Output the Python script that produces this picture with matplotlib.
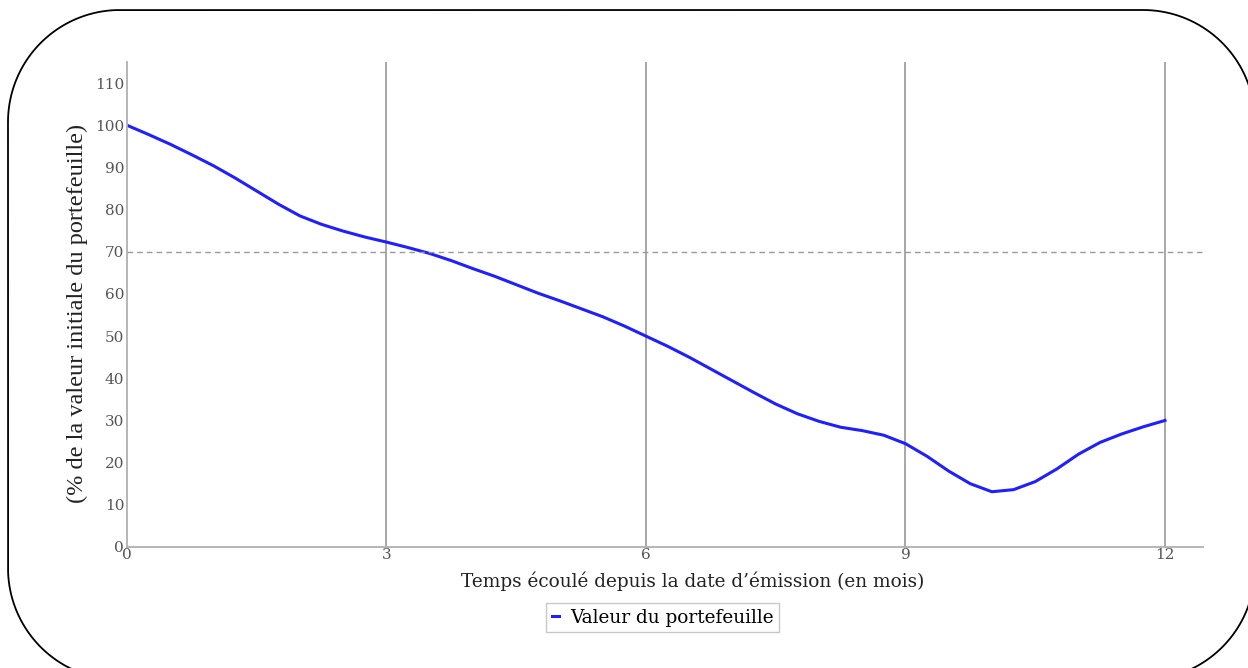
import matplotlib
matplotlib.use("Agg")
import numpy as np
import matplotlib.pyplot as plt
from matplotlib.patches import PathPatch
from matplotlib.path import Path
from matplotlib.transforms import IdentityTransform

# valeurs (mois, % de la valeur initiale)
mois = [0, 0.25, 0.5, 0.75, 1, 1.25, 1.5, 1.75, 2, 2.25, 2.5, 2.75, 3, 3.25,
        3.5, 3.75, 4, 4.25, 4.5, 4.75, 5, 5.25, 5.5, 5.75, 6, 6.25, 6.5, 6.75,
        7, 7.25, 7.5, 7.75, 8, 8.25, 8.5, 8.75, 9, 9.25, 9.5, 9.75, 10, 10.25,
        10.5, 10.75, 11, 11.25, 11.5, 11.75, 12]
valeur = [100, 97.8, 95.5, 93, 90.4, 87.5, 84.4, 81.3, 78.5, 76.5, 74.9, 73.5,
          72.3, 71, 69.6, 67.9, 66, 64.2, 62.2, 60.2, 58.4, 56.5, 54.6, 52.4,
          50, 47.6, 45, 42.2, 39.4, 36.6, 33.9, 31.6, 29.8, 28.4, 27.6, 26.5,
          24.5, 21.5, 18, 15, 13.1, 13.6, 15.5, 18.5, 22, 24.8, 26.8, 28.5, 30]

xticks = [0, 3, 6, 9, 12]
yticks = list(range(0, 111, 10))
seuil = 70

fig = plt.figure(figsize=(12.48, 6.68), dpi=100)
ax = fig.add_axes([127 / 1248, 1 - 547 / 668, (1203 - 127) / 1248, (547 - 62) / 668])

ax.plot(mois, valeur, color='#1f1fff', lw=2.2, label='Valeur du portefeuille',
        solid_joinstyle='round')
ax.axhline(seuil, color='#999999', lw=1, ls=(0, (4, 3)))
for x in xticks[1:]:
    ax.axvline(x, color='#a0a0a0', lw=1.3, zorder=0)

ax.set_xlim(0, 12.44)
ax.set_ylim(0, 115)
ax.set_xticks(xticks)
ax.set_yticks(yticks)
ax.tick_params(length=0, labelsize=11, labelcolor='#555555', pad=2)
for lab in ax.get_xticklabels() + ax.get_yticklabels():
    lab.set_family('DejaVu Serif')
ax.tick_params(axis='x', pad=1)

for s in ['top', 'right']:
    ax.spines[s].set_visible(False)
for s in ['left', 'bottom']:
    ax.spines[s].set_color('#b0b0b0')
    ax.spines[s].set_linewidth(1.3)

ax.set_xlabel("Temps écoulé depuis la date d’émission (en mois)",
              family='DejaVu Serif', fontsize=13.3, color='#222222')
ax.xaxis.set_label_coords(0.526, -0.051)
ax.set_ylabel("(% de la valeur initiale du portefeuille)",
              family='Liberation Serif', fontsize=17.5, color='#222222')
ax.yaxis.set_label_coords(-0.036, 0.482)

leg = ax.legend(loc='upper center', bbox_to_anchor=(0.498, -0.097), frameon=True,
                fancybox=False, handlelength=0.4, handletextpad=0.6,
                prop={'family': 'DejaVu Serif', 'size': 13.3}, borderpad=0.3)
leg.get_frame().set_edgecolor('#bbbbbb')
leg.get_frame().set_linewidth(1)

# cadre arrondi autour de la figure (coordonnees pixels, origine en bas)
gauche, droite, haut, bas, r = 8, 1255, 658, -12, 112
t = np.linspace(0, np.pi / 2, 40)
pts = []
pts += list(zip(droite - r + r * np.cos(t), haut - r + r * np.sin(t)))
pts += list(zip(gauche + r - r * np.sin(t), haut - r + r * np.cos(t)))
pts += list(zip(gauche + r - r * np.cos(t), bas + r - r * np.sin(t)))
pts += list(zip(droite - r + r * np.sin(t), bas + r - r * np.cos(t)))
pts.append(pts[0])
cadre = PathPatch(Path(pts), transform=IdentityTransform(), fill=False,
                  edgecolor='black', lw=1.3, clip_on=False)
fig.patches.append(cadre)

fig.savefig('out.png', dpi=100)
